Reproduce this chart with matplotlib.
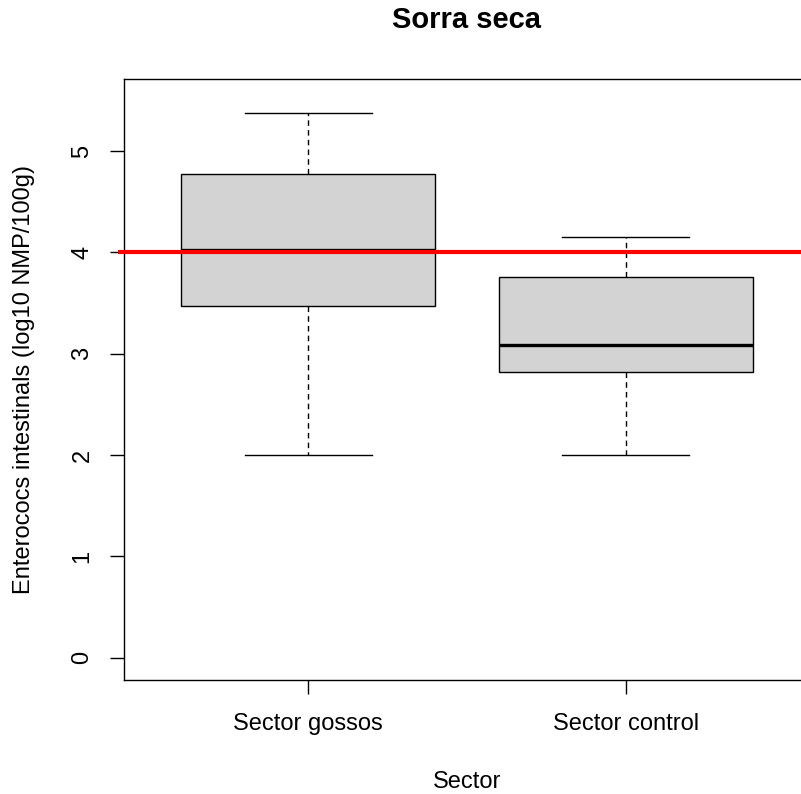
import matplotlib
matplotlib.use("Agg")
import matplotlib.pyplot as plt

plt.rcParams['font.family'] = ['Liberation Sans', 'DejaVu Sans']

# boxplot summary values (log10 NMP/100g)
sectors = ["Sector gossos", "Sector control"]
whisker_low = [2.00, 2.00]
q1 = [3.47, 2.82]
median = [4.02, 3.09]
q3 = [4.77, 3.76]
whisker_high = [5.37, 4.15]
limit = 4.0

stats = []
for i, name in enumerate(sectors):
    stats.append(dict(label=name, whislo=whisker_low[i], q1=q1[i], med=median[i],
                      q3=q3[i], whishi=whisker_high[i], fliers=[]))

fig = plt.figure(figsize=(8.01, 7.94), dpi=100)
ax = fig.add_axes([124 / 801, 1 - 680 / 794, 686 / 801, 601 / 794])

ax.bxp(stats, positions=[1, 2], widths=0.8, showfliers=False, patch_artist=True,
       boxprops=dict(facecolor="#d3d3d3", edgecolor="black", linewidth=1.0),
       medianprops=dict(color="black", linewidth=2.4),
       whiskerprops=dict(color="black", linewidth=1.0, linestyle=(0, (4, 3))),
       capprops=dict(color="black", linewidth=1.0), capwidths=0.4)

# reference line drawn a little past the left axis, as in the original
ax.hlines(limit, 0.40, 2.6, color="red", linewidth=3, zorder=5, clip_on=False)

ax.set_xlim(0.42, 2.58)
ax.set_ylim(-0.22, 5.71)
ax.set_yticks(range(6))
ax.set_yticklabels([str(v) for v in range(6)], rotation=90, va="center")
ax.set_xticks([1, 2])
ax.set_xticklabels(sectors)
ax.tick_params(axis="both", length=10, width=1.0, labelsize=17, pad=12)
ax.tick_params(axis="x", pad=14)

for s in ax.spines.values():
    s.set_linewidth(1.0)

ax.set_xlabel("Sector", fontsize=17, labelpad=26)
ax.set_ylabel("Enterococs intestinals (log10 NMP/100g)", fontsize=17, labelpad=26)
fig.text(467 / 801, 1 - 20 / 794, "Sorra seca", fontsize=21, fontweight="bold",
         ha="center", va="center")

fig.savefig("out.png", dpi=100)
